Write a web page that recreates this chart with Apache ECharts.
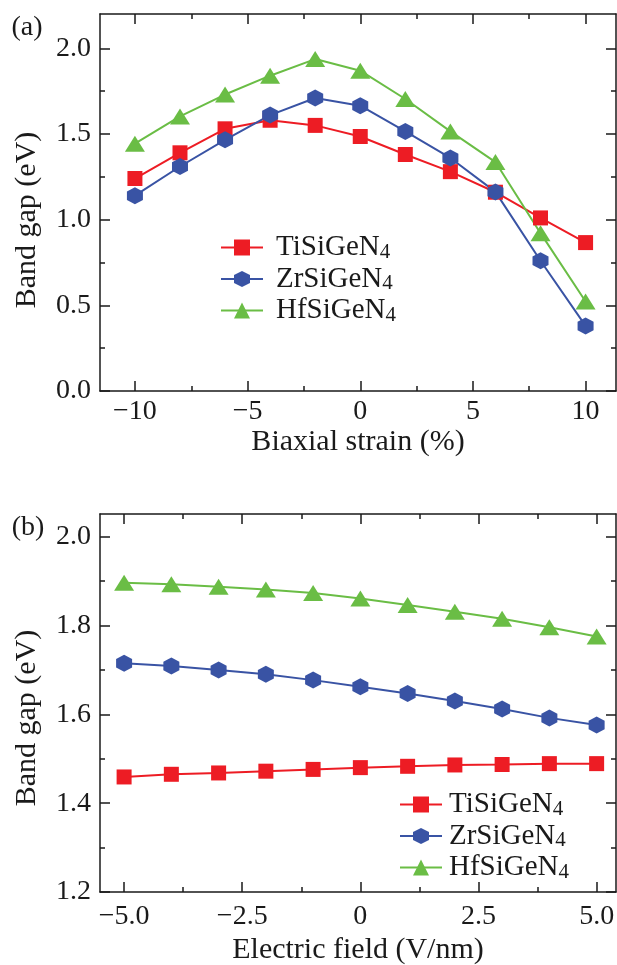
<!DOCTYPE html>
<html>
<head>
<meta charset="utf-8">
<script src="https://cdn.jsdelivr.net/npm/echarts@6/dist/echarts.min.js"></script>
<style>
  html, body { margin: 0; padding: 0; background: #fff; }
  #chart { width: 617px; height: 965px; }
</style>
</head>
<body>
<div id="chart"></div>
<script>
// panel (a): band gap vs biaxial strain
const strainX = [-10, -8, -6, -4, -2, 0, 2, 4, 6, 8, 10];
const strainTi = [1.24, 1.39, 1.53, 1.58, 1.55, 1.485, 1.38, 1.28, 1.16, 1.01, 0.866];
const strainZr = [1.14, 1.31, 1.466, 1.61, 1.71, 1.665, 1.515, 1.36, 1.162, 0.76, 0.38];
const strainHf = [1.443, 1.602, 1.73, 1.84, 1.937, 1.869, 1.704, 1.515, 1.336, 0.921, 0.522];

// panel (b): band gap vs electric field
const fieldX = [-5, -4, -3, -2, -1, 0, 1, 2, 3, 4, 5];
const fieldTi = [1.459, 1.465, 1.468, 1.472, 1.476, 1.480, 1.483, 1.486, 1.487, 1.489, 1.489];
const fieldZr = [1.715, 1.709, 1.700, 1.690, 1.677, 1.662, 1.647, 1.630, 1.612, 1.592, 1.576];
const fieldHf = [1.896, 1.893, 1.887, 1.881, 1.873, 1.861, 1.846, 1.831, 1.815, 1.796, 1.775];

const names = ['TiSiGeN4', 'ZrSiGeN4', 'HfSiGeN4'];

// tick values
const strainMajor = [-10, -5, 0, 5, 10];
const strainMinor = [-7.5, -2.5, 2.5, 7.5];
const gapAMajor = [0, 0.5, 1.0, 1.5, 2.0];
const gapAMinor = [0.25, 0.75, 1.25, 1.75];
const fieldMajor = [-5, -2.5, 0, 2.5, 5];
const fieldMinor = [-3.75, -1.25, 1.25, 3.75];
const gapBMajor = [1.2, 1.4, 1.6, 1.8, 2.0];
const gapBMinor = [1.3, 1.5, 1.7, 1.9];

const colors = ['#ED1C24', '#3953A4', '#6ABD45'];
const hexagon = 'path://M0,-10 L8.66,-5 L8.66,5 L0,10 L-8.66,5 L-8.66,-5 Z';
const symbols = ['rect', hexagon, 'triangle'];
const symbolSizes = [[15, 15], [16, 17], [20, 16]];

const FONT = 'Liberation Serif';
const ink = '#1a1a1a';

const chart = echarts.init(document.getElementById('chart'));

const minus = s => String(s).replace('-', '\u2212');
const frameLine = { show: true, onZero: false, lineStyle: { color: ink, width: 1.5 } };
const noLine = { show: false, onZero: false };
const tick = (len, values) => ({ inside: true, length: len, customValues: values, lineStyle: { color: ink, width: 1.5 } });

function xAxes(gridMain, gridMinor, min, max, major, minor, fmt, name, nameGap, labelMargin) {
    return [
        {
            type: 'value', gridIndex: gridMain, position: 'bottom', min, max,
            axisLine: frameLine, splitLine: { show: false }, axisTick: tick(10, major),
            axisLabel: { customValues: major, formatter: fmt, margin: labelMargin, color: ink, fontFamily: FONT, fontSize: 28 },
            name, nameLocation: 'middle', nameGap,
            nameTextStyle: { color: ink, fontFamily: FONT, fontSize: 30 }
        },
        {
            type: 'value', gridIndex: gridMain, position: 'top', min, max,
            axisLine: frameLine, splitLine: { show: false }, axisTick: tick(10, major),
            axisLabel: { show: false }
        },
        {
            type: 'value', gridIndex: gridMinor, position: 'bottom', min, max,
            axisLine: noLine, splitLine: { show: false }, axisTick: tick(5, minor),
            axisLabel: { show: false }
        },
        {
            type: 'value', gridIndex: gridMinor, position: 'top', min, max,
            axisLine: noLine, splitLine: { show: false }, axisTick: tick(5, minor),
            axisLabel: { show: false }
        }
    ];
}

function yAxes(gridMain, gridMinor, min, max, major, minor, fmt) {
    return [
        {
            type: 'value', gridIndex: gridMain, position: 'left', min, max,
            axisLine: frameLine, splitLine: { show: false }, axisTick: tick(10, major),
            axisLabel: { customValues: major, formatter: fmt, margin: 9, color: ink, fontFamily: FONT, fontSize: 28 }
        },
        {
            type: 'value', gridIndex: gridMain, position: 'right', min, max,
            axisLine: frameLine, splitLine: { show: false }, axisTick: tick(10, major),
            axisLabel: { show: false }
        },
        {
            type: 'value', gridIndex: gridMinor, position: 'left', min, max,
            axisLine: noLine, splitLine: { show: false }, axisTick: tick(5, minor),
            axisLabel: { show: false }
        },
        {
            type: 'value', gridIndex: gridMinor, position: 'right', min, max,
            axisLine: noLine, splitLine: { show: false }, axisTick: tick(5, minor),
            axisLabel: { show: false }
        }
    ];
}

function makeSeries(xs, ysList, axisIndex) {
    return ysList.map((ys, i) => ({
        type: 'line',
        name: names[i],
        xAxisIndex: axisIndex,
        yAxisIndex: axisIndex,
        data: xs.map((x, k) => [x, ys[k]]),
        symbol: symbols[i],
        symbolSize: symbolSizes[i],
        showAllSymbol: true,
        lineStyle: { color: colors[i], width: 2 },
        itemStyle: { color: colors[i] },
        emphasis: { disabled: true },
        animation: false
    }));
}

function legend(left, top, gap) {
    return {
        orient: 'vertical', left, top,
        data: names,
        itemWidth: 42, itemHeight: 20, itemGap: 2,
        formatter: n => '{a|' + n.slice(0, -1) + '}{s|' + n.slice(-1) + '}',
        textStyle: {
            rich: {
                a: { fontFamily: FONT, fontSize: 29, color: ink, lineHeight: 30, padding: [0, 0, 0, gap] },
                s: { fontFamily: FONT, fontSize: 21, color: ink, lineHeight: 12, verticalAlign: 'bottom' }
            }
        },
        selectedMode: false
    };
}

const gridA = { left: 100, top: 14, width: 516, height: 377, containLabel: false, outerBoundsMode: 'none' };
const gridB = { left: 100, top: 514, width: 516, height: 378, containLabel: false, outerBoundsMode: 'none' };

const titleFont = { fill: ink, fontFamily: FONT, fontSize: 30 };

chart.setOption({
    backgroundColor: '#fff',
    animation: false,
    grid: [gridA, gridA, gridB, gridB],
    xAxis: [
        ...xAxes(0, 1, -11.55, 11.35, strainMajor, strainMinor, v => minus(v), 'Biaxial strain (%)', 35, 7),
        ...xAxes(2, 3, -5.51, 5.41, fieldMajor, fieldMinor, v => v === 0 ? '0' : minus(v.toFixed(1)), 'Electric field (V/nm)', 43, 11)
    ],
    yAxis: [
        ...yAxes(0, 1, 0, 2.2, gapAMajor, gapAMinor, v => v.toFixed(1)),
        ...yAxes(2, 3, 1.2, 2.051, gapBMajor, gapBMinor, v => v.toFixed(1))
    ],
    legend: [legend(215, 228, 8), legend(394, 785, 2)],
    series: [
        ...makeSeries(strainX, [strainTi, strainZr, strainHf], 0),
        ...makeSeries(fieldX, [fieldTi, fieldZr, fieldHf], 4)
    ],
    graphic: [
        { type: 'text', x: 27, y: 220, rotation: Math.PI / 2, style: { ...titleFont, text: 'Band gap (eV)', align: 'center', verticalAlign: 'middle' } },
        { type: 'text', x: 27, y: 718, rotation: Math.PI / 2, style: { ...titleFont, text: 'Band gap (eV)', align: 'center', verticalAlign: 'middle' } },
        { type: 'text', x: 27, y: 28, style: { ...titleFont, fontSize: 28, text: '(a)', align: 'center', verticalAlign: 'middle' } },
        { type: 'text', x: 28, y: 528, style: { ...titleFont, fontSize: 28, text: '(b)', align: 'center', verticalAlign: 'middle' } }
    ]
});
</script>
</body>
</html>
